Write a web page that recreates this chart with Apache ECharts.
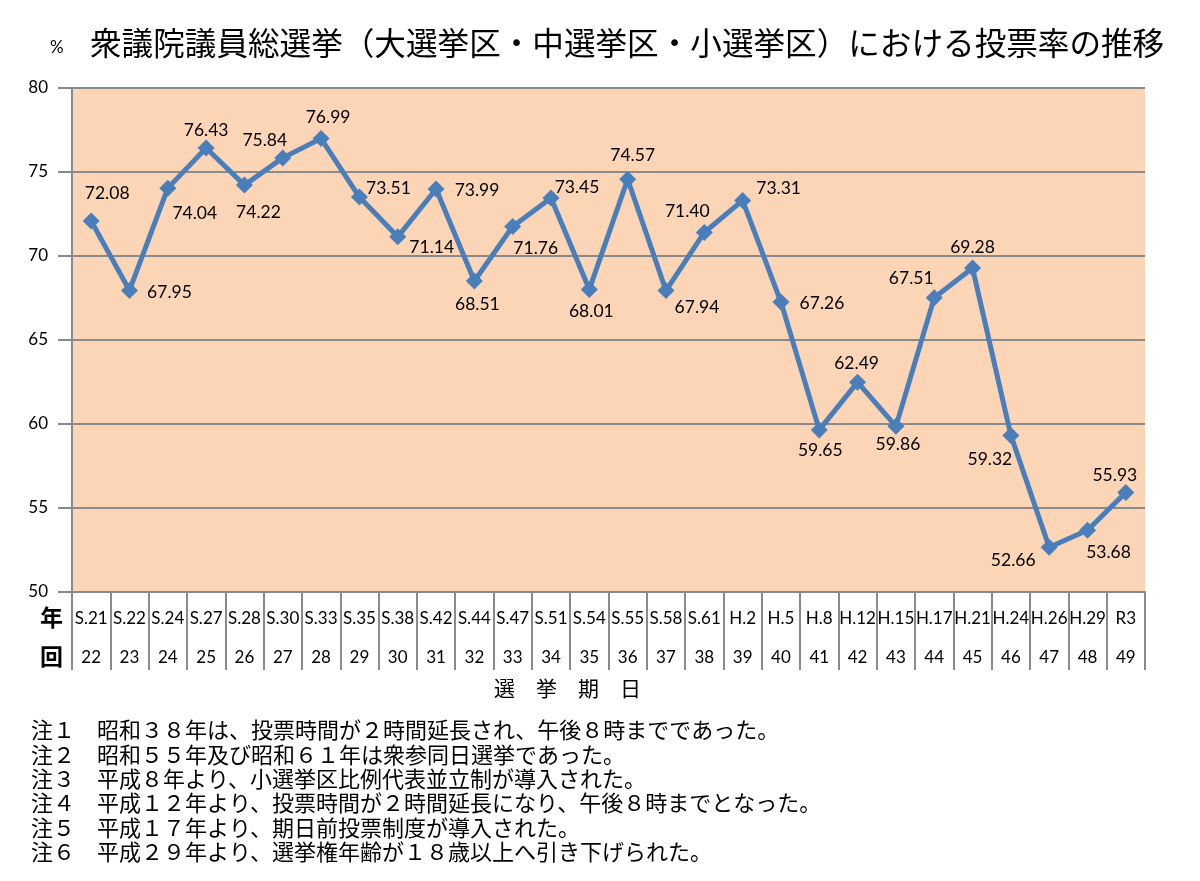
<!DOCTYPE html>
<html>
<head>
<meta charset="utf-8">
<script src="https://cdn.jsdelivr.net/npm/echarts@6/dist/echarts.min.js"></script>
<style>
  html, body { margin: 0; padding: 0; background: #fff; }
  #chart { width: 1200px; height: 881px; }
</style>
</head>
<body>
<div id="chart"></div>
<script>
    // election year labels (row 年) and election numbers (row 回)
    var eraLabels = ['S.21', 'S.22', 'S.24', 'S.27', 'S.28', 'S.30', 'S.33', 'S.35', 'S.38', 'S.42',
        'S.44', 'S.47', 'S.51', 'S.54', 'S.55', 'S.58', 'S.61', 'H.2', 'H.5', 'H.8',
        'H.12', 'H.15', 'H.17', 'H.21', 'H.24', 'H.26', 'H.29', 'R3'];
    var kaiLabels = ['22', '23', '24', '25', '26', '27', '28', '29', '30', '31',
        '32', '33', '34', '35', '36', '37', '38', '39', '40', '41',
        '42', '43', '44', '45', '46', '47', '48', '49'];
    var turnout = [72.08, 67.95, 74.04, 76.43, 74.22, 75.84, 76.99, 73.51, 71.14, 73.99,
        68.51, 71.76, 73.45, 68.01, 74.57, 67.94, 71.40, 73.31, 67.26, 59.65,
        62.49, 59.86, 67.51, 69.28, 59.32, 52.66, 53.68, 55.93];
    var yTicks = [50, 55, 60, 65, 70, 75, 80];

    // where each value label sits relative to its marker (px)
    var labelOffsets = [[16, -28], [40, 2], [27, 25], [0, -18], [14, 27], [-18, -18], [7, -21],
        [29, -9], [34, 11], [41, 1], [3, 23], [23, 22], [26, -11], [2, 22], [5, -24],
        [31, 17], [-17, -21], [36, -12], [41, 1], [1, 20], [-1, -19], [2, 18], [-23, -19],
        [0, -21], [-21, 24], [-36, 13], [21, 22], [-11, -17]];

    var notes = [
        '注１　昭和３８年は、投票時間が２時間延長され、午後８時までであった。',
        '注２　昭和５５年及び昭和６１年は衆参同日選挙であった。',
        '注３　平成８年より、小選挙区比例代表並立制が導入された。',
        '注４　平成１２年より、投票時間が２時間延長になり、午後８時までとなった。',
        '注５　平成１７年より、期日前投票制度が導入された。',
        '注６　平成２９年より、選挙権年齢が１８歳以上へ引き下げられた。'
    ];

    var jpFont = '"Noto Sans CJK JP", sans-serif';
    var numFont = 'Lato, "Noto Sans", sans-serif';

    function _map(arr, fn) {
        var out = [];
        for (var i = 0; i < arr.length; i++) out.push(fn(arr[i], i));
        return out;
    }

    function getSeriesData() {
        return _map(turnout, function(v, idx) {
            return {
                value: v,
                label: { offset: labelOffsets[idx] }
            };
        });
    }

    function getGraphics() {
        var g = [
            { type: 'text', left: 50, top: 39, style: { text: '%', font: '17px ' + numFont, fill: '#000' } },
            { type: 'text', left: 90, top: 27, style: { text: '衆議院議員総選挙（大選挙区・中選挙区・小選挙区）における投票率の推移', font: '31.6px ' + jpFont, fill: '#000' } },
            { type: 'text', left: 40, top: 606, style: { text: '年', font: 'bold 23px ' + jpFont, fill: '#000' } },
            { type: 'text', left: 40, top: 645, style: { text: '回', font: 'bold 23px ' + jpFont, fill: '#000' } },
            { type: 'text', left: 494, top: 678, style: { text: '選　挙　期　日', font: '21px ' + jpFont, fill: '#000' } }
        ];
        _map(notes, function(n, i) {
            g.push({ type: 'text', left: 31, top: 719 + i * 24.3, style: { text: n, font: '22px ' + jpFont, fill: '#000' } });
        });
        return g;
    }

    var chart = echarts.init(document.getElementById('chart'));

    var option = {
        backgroundColor: '#fff',
        animation: false,
        graphic: getGraphics(),
        grid: {
            left: 72,
            right: 55,
            top: 88,
            bottom: 289,
            show: true,
            backgroundColor: '#FBD5B5',
            borderWidth: 0
        },
        xAxis: [{
            type: 'category',
            boundaryGap: true,
            data: eraLabels,
            axisLine: { lineStyle: { color: '#8a8a8a', width: 2 } },
            axisTick: { show: true, length: 78, interval: 0, lineStyle: { color: '#8a8a8a', width: 2 } },
            axisLabel: {
                interval: 0,
                margin: 7,
                formatter: function(value, idx) {
                    return '{e|' + value + '}\n{n|' + kaiLabels[idx] + '}';
                },
                rich: {
                    e: { fontFamily: numFont, fontSize: 17, color: '#000', lineHeight: 39 },
                    n: { fontFamily: numFont, fontSize: 17, color: '#000', lineHeight: 39 }
                }
            }
        }],
        yAxis: [{
            type: 'value',
            min: yTicks[0],
            max: yTicks[yTicks.length - 1],
            interval: 5,
            axisLine: { show: true, lineStyle: { color: '#8a8a8a', width: 2 } },
            axisTick: { show: true, length: 14, lineStyle: { color: '#8a8a8a', width: 2 } },
            axisLabel: { margin: 24, fontFamily: numFont, fontSize: 17, color: '#000' },
            splitLine: { show: true, lineStyle: { color: '#8a8a8a', width: 2 } }
        }],
        series: [{
            type: 'line',
            data: getSeriesData(),
            symbol: 'diamond',
            symbolSize: 17,
            itemStyle: { color: '#4A7EBB' },
            lineStyle: { color: '#4A7EBB', width: 5 },
            label: {
                show: true,
                position: 'inside',
                align: 'center',
                verticalAlign: 'middle',
                fontFamily: numFont,
                fontSize: 17.5,
                color: '#000',
                formatter: function(p) { return p.value.toFixed(2); }
            },
            z: 3
        }]
    };
    chart.setOption(option);
</script>
</body>
</html>
